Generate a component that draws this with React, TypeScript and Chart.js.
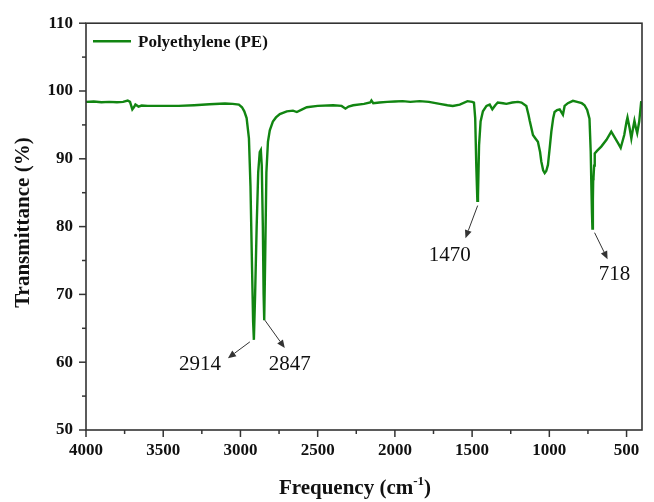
import React, { useEffect, useRef } from 'react';
import { Chart, registerables } from 'chart.js';

Chart.register(...registerables);

const seriesLabel = 'Polyethylene (PE)';
const lineColor = '#118511';

const wavenumbers = [
  4000, 3950, 3900, 3850, 3800, 3760, 3730, 3715, 3700, 3690, 3680, 3660, 3640, 3600, 3500, 3400, 3300, 3200, 3100, 3050,
  3010, 2990, 2975, 2960, 2945, 2935, 2925, 2918, 2913, 2905, 2895, 2885, 2875, 2868, 2862, 2855, 2850, 2846, 2840, 2832,
  2822, 2810, 2790, 2770, 2745, 2700, 2660, 2635, 2600, 2570, 2500, 2400, 2345, 2320, 2300, 2270, 2200, 2160, 2152, 2140,
  2100, 2050, 2000, 1950, 1900, 1840, 1780, 1710, 1660, 1625, 1580, 1530, 1500, 1488, 1480, 1473, 1466, 1462, 1455, 1445,
  1430, 1407, 1386, 1369, 1350, 1334, 1300, 1278, 1240, 1203, 1180, 1149, 1135, 1127, 1106, 1090, 1074, 1060, 1052, 1040,
  1030, 1020, 1009, 998, 987, 975, 966, 950, 933, 912, 901, 880, 847, 820, 790, 772, 755, 740, 732, 728,
  724, 721, 718, 716, 714, 710, 706, 690, 664, 630, 599, 578, 555, 538, 515, 500, 494, 480, 469, 458,
  449, 440, 431, 418, 405,
];
const transmittance = [
  98.4, 98.45, 98.35, 98.4, 98.35, 98.4, 98.6, 98.4, 97.3, 97.6, 98.0, 97.7, 97.85, 97.8, 97.8, 97.8, 97.9, 98.05, 98.15, 98.1,
  98.0, 97.6, 97.0, 96.0, 93.0, 86.0, 74.0, 66.0, 63.3, 70.0, 80.0, 88.0, 91.0, 91.3, 89.0, 80.0, 70.0, 66.2, 75.0, 88.0,
  92.5, 94.2, 95.5, 96.1, 96.6, 97.0, 97.1, 96.9, 97.3, 97.6, 97.8, 97.9, 97.8, 97.4, 97.7, 97.9, 98.1, 98.3, 98.6, 98.2,
  98.3, 98.4, 98.45, 98.5, 98.4, 98.5, 98.4, 98.1, 97.9, 97.8, 98.0, 98.5, 98.4, 98.3, 96.0, 89.0, 83.8, 84.5, 92.0, 95.5,
  97.0, 97.8, 98.0, 97.3, 97.9, 98.3, 98.2, 98.1, 98.3, 98.4, 98.3, 97.8, 96.5, 95.6, 93.5, 93.0, 92.5, 91.0, 89.6, 88.3,
  87.9, 88.2, 89.1, 91.5, 94.0, 96.0, 96.9, 97.2, 97.3, 96.5, 97.8, 98.2, 98.55, 98.4, 98.2, 97.9, 97.2, 95.9, 91.0, 86.2,
  82.0, 79.7, 84.0, 87.0, 87.2, 89.0, 90.8, 91.2, 91.8, 92.8, 94.0, 93.2, 92.3, 91.6, 93.5, 95.5, 96.1, 94.5, 93.0, 94.5,
  95.6, 94.6, 93.8, 95.5, 98.5,
];

const xMin = 400;
const xMax = 4000;
const xMajorStep = 500;
const xMinorStep = 250;
const yMin = 50;
const yMax = 110;
const yMajorStep = 10;
const yMinorStep = 5;

const peakLabels = ['2914', '2847', '1470', '718'];
const arrowFromX = [2939, 2842, 1464, 707];
const arrowFromY = [63.0, 66.2, 83.1, 79.1];
const arrowToX = [3081, 2713, 1543, 623];
const arrowToY = [60.6, 62.1, 78.3, 75.2];
const peakTextX = [3262, 2680, 1645, 578];
const peakTextY = [59.7, 59.7, 75.8, 72.9];

const FONT = "'Liberation Serif', 'Times New Roman', serif";

const decorPlugin = {
  id: 'decor',
  afterDraw(chart: any) {
    const { ctx, chartArea: ca, scales } = chart;
    const x = scales.x;
    const y = scales.y;
    ctx.save();
    // frame
    ctx.strokeStyle = '#333';
    ctx.lineWidth = 1.6;
    ctx.strokeRect(ca.left, ca.top, ca.right - ca.left, ca.bottom - ca.top);
    // ticks
    ctx.lineWidth = 1.5;
    x.ticks.forEach((t: any) => {
      const px = x.getPixelForValue(t.value);
      const major = t.value % xMajorStep === 0;
      ctx.beginPath();
      ctx.moveTo(px, ca.bottom);
      ctx.lineTo(px, ca.bottom + (major ? 7 : 4));
      ctx.stroke();
    });
    y.ticks.forEach((t: any) => {
      const py = y.getPixelForValue(t.value);
      const major = t.value % yMajorStep === 0;
      ctx.beginPath();
      ctx.moveTo(ca.left, py);
      ctx.lineTo(ca.left - (major ? 7 : 4), py);
      ctx.stroke();
    });

    // legend
    const ly = ca.top + 18;
    ctx.strokeStyle = lineColor;
    ctx.lineWidth = 2.4;
    ctx.beginPath();
    ctx.moveTo(ca.left + 7, ly);
    ctx.lineTo(ca.left + 45, ly);
    ctx.stroke();
    ctx.fillStyle = '#111';
    ctx.font = `bold 17px ${FONT}`;
    ctx.textAlign = 'left';
    ctx.textBaseline = 'middle';
    ctx.fillText(seriesLabel, ca.left + 52, ly + 1);

    // annotations
    ctx.strokeStyle = '#333';
    ctx.fillStyle = '#333';
    ctx.lineWidth = 1;
    for (let i = 0; i < peakLabels.length; i++) {
      const x1 = x.getPixelForValue(arrowFromX[i]);
      const y1 = y.getPixelForValue(arrowFromY[i]);
      const x2 = x.getPixelForValue(arrowToX[i]);
      const y2 = y.getPixelForValue(arrowToY[i]);
      const ang = Math.atan2(y2 - y1, x2 - x1);
      const head = 8;
      const hw = 3.5;
      const bx = x2 - head * Math.cos(ang);
      const by = y2 - head * Math.sin(ang);
      ctx.beginPath();
      ctx.moveTo(x1, y1);
      ctx.lineTo(bx, by);
      ctx.stroke();
      ctx.beginPath();
      ctx.moveTo(x2, y2);
      ctx.lineTo(bx + hw * Math.sin(ang), by - hw * Math.cos(ang));
      ctx.lineTo(bx - hw * Math.sin(ang), by + hw * Math.cos(ang));
      ctx.closePath();
      ctx.fill();
    }
    ctx.fillStyle = '#111';
    ctx.font = `21px ${FONT}`;
    ctx.textAlign = 'center';
    ctx.textBaseline = 'middle';
    for (let i = 0; i < peakLabels.length; i++) {
      ctx.fillText(peakLabels[i], x.getPixelForValue(peakTextX[i]), y.getPixelForValue(peakTextY[i]));
    }

    // y title
    ctx.save();
    ctx.translate(24, (ca.top + ca.bottom) / 2 - 4);
    ctx.rotate(-Math.PI / 2);
    ctx.font = `bold 21px ${FONT}`;
    ctx.textAlign = 'center';
    ctx.textBaseline = 'middle';
    ctx.fillText('Transmittance (%)', 0, 0);
    ctx.restore();

    // x title with superscript
    const main1 = 'Frequency (cm';
    const sup = '-1';
    const main2 = ')';
    ctx.font = `bold 21px ${FONT}`;
    const w1 = ctx.measureText(main1).width;
    const w3 = ctx.measureText(main2).width;
    ctx.font = `bold 13px ${FONT}`;
    const w2 = ctx.measureText(sup).width;
    const total = w1 + w2 + w3;
    const cx = (ca.left + ca.right) / 2 - 9;
    const base = 494;
    let sx = cx - total / 2;
    ctx.textAlign = 'left';
    ctx.textBaseline = 'alphabetic';
    ctx.font = `bold 21px ${FONT}`;
    ctx.fillText(main1, sx, base);
    sx += w1;
    ctx.font = `bold 13px ${FONT}`;
    ctx.fillText(sup, sx, base - 9);
    sx += w2;
    ctx.font = `bold 21px ${FONT}`;
    ctx.fillText(main2, sx, base);

    ctx.restore();
  },
};

export default function App() {
  const ref = useRef<HTMLCanvasElement | null>(null);
  useEffect(() => {
    if (!ref.current) return;
    const points = wavenumbers.map((w, i) => ({ x: w, y: transmittance[i] }));
    const chart = new Chart(ref.current, {
      type: 'line',
      data: {
        datasets: [
          {
            label: seriesLabel,
            data: points,
            borderColor: lineColor,
            backgroundColor: lineColor,
            borderWidth: 2.4,
            pointRadius: 0,
            tension: 0,
            fill: false,
          },
        ],
      },
      options: {
        animation: false,
        responsive: false,
        devicePixelRatio: 1,
        layout: { padding: { top: 16, right: 12, left: 0, bottom: 0 } },
        plugins: { legend: { display: false }, tooltip: { enabled: false } },
        scales: {
          x: {
            type: 'linear',
            reverse: true,
            min: xMin,
            max: xMax,
            grid: { display: false, drawTicks: false },
            border: { display: false },
            ticks: {
              stepSize: xMinorStep,
              includeBounds: false,
              autoSkip: false,
              maxRotation: 0,
              padding: 10,
              color: '#111',
              font: { family: FONT, weight: 'bold', size: 17 },
              callback: (v: any) => (Number(v) % xMajorStep === 0 ? String(v) : ''),
            },
            afterFit: (s: any) => {
              s.height = 72;
            },
          },
          y: {
            min: yMin,
            max: yMax,
            grid: { display: false, drawTicks: false },
            border: { display: false },
            ticks: {
              stepSize: yMinorStep,
              autoSkip: false,
              padding: 13,
              color: '#111',
              font: { family: FONT, weight: 'bold', size: 17 },
              callback: (v: any) => (Number(v) % yMajorStep === 0 ? String(v) : ''),
            },
            afterFit: (s: any) => {
              s.width = 86;
            },
          },
        },
      },
      plugins: [decorPlugin],
    } as any);
    return () => chart.destroy();
  }, []);
  return (
    <div style={{ position: 'fixed', left: 0, top: 0, width: 654, height: 502, background: '#fff' }}>
      <canvas ref={ref} width={654} height={502} style={{ display: 'block', width: 654, height: 502 }} />
    </div>
  );
}
